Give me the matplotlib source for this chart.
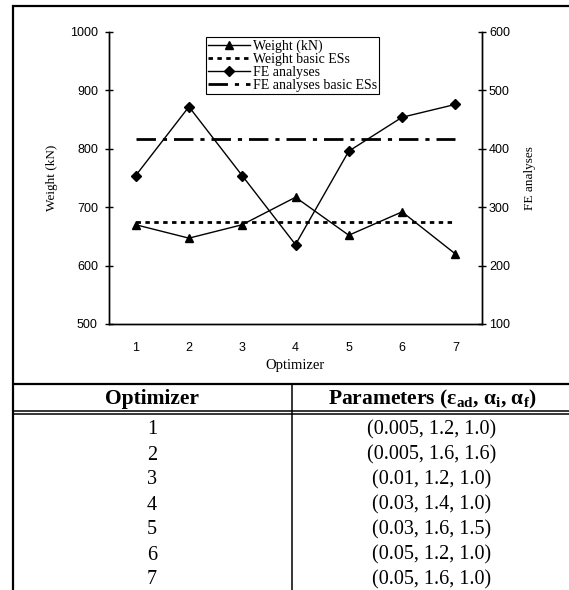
import matplotlib
matplotlib.use("Agg")
import matplotlib.pyplot as plt
from matplotlib.lines import Line2D

plt.rcParams['mathtext.fontset'] = 'custom'
plt.rcParams['mathtext.rm'] = 'Liberation Serif'
plt.rcParams['mathtext.it'] = 'Liberation Serif:italic'
plt.rcParams['mathtext.bf'] = 'Liberation Serif:bold'

# ---- data ----
optimizers = [1, 2, 3, 4, 5, 6, 7]
weight = [670, 647, 670, 717, 652, 692, 620]
weight_basic = 675
fe_analyses = [354, 472, 354, 236, 396, 454, 476]
fe_basic = 416
params = ["(0.005, 1.2, 1.0)", "(0.005, 1.6, 1.6)", "(0.01, 1.2, 1.0)",
          "(0.03, 1.4, 1.0)", "(0.03, 1.6, 1.5)", "(0.05, 1.2, 1.0)",
          "(0.05, 1.6, 1.0)"]
col_headers = ["Optimizer",
               r"Parameters (ε$_{\mathbf{ad}}$, α$_{\mathbf{i}}$, α$_{\mathbf{f}}$)"]

W, H = 569, 590
fig = plt.figure(figsize=(W / 100, H / 100), dpi=100)

def fx(px):
    return px / W

def fy(py):
    return 1 - py / H

serif = 'Liberation Serif'
sans = 'Liberation Sans'

# axes placement (pixel box 109..482 x 32..324)
L, R, T, B = 109, 482, 32, 324
ax = fig.add_axes([fx(L), fy(B), fx(R) - fx(L), fy(T) - fy(B)])
ax2 = ax.twinx()

l1, = ax.plot(optimizers, weight, color='black', lw=1, marker='^', ms=6,
              label='Weight (kN)')
l2, = ax.plot([optimizers[0], optimizers[-1]], [weight_basic, weight_basic],
              color='black', lw=2, linestyle=(0, (1.6, 1.6)),
              label='Weight basic ESs')
l3, = ax2.plot(optimizers, fe_analyses, color='black', lw=1, marker='D', ms=4.8,
               label='FE analyses')
l4, = ax2.plot([optimizers[0], optimizers[-1]], [fe_basic, fe_basic],
               color='black', lw=2, linestyle=(0, (7, 2.5, 1.5, 2.5)),
               label='FE analyses basic ESs')

ax.set_xlim(0.5, 7.5)
ax.set_ylim(500, 1000)
ax2.set_ylim(100, 600)
ax.set_xticks(optimizers)
ax.set_yticks(range(500, 1001, 100))
ax2.set_yticks(range(100, 601, 100))

for a in (ax, ax2):
    a.spines['top'].set_visible(False)
    for s in a.spines.values():
        s.set_linewidth(1)
        s.set_color('black')

ax.tick_params(axis='x', length=0, pad=13, labelsize=9)
ax.tick_params(axis='y', direction='inout', length=6, width=1, pad=5, labelsize=9)
ax2.tick_params(axis='y', direction='inout', length=6, width=1, pad=2, labelsize=9)
for lab in ax.get_xticklabels() + ax.get_yticklabels() + ax2.get_yticklabels():
    lab.set_fontfamily(sans)

ax.set_xlabel('Optimizer', fontfamily=serif, fontsize=10.5)
ax.xaxis.set_label_coords(0.5, (B - 366) / (B - T))
ax.xaxis.label.set_va('center')
ax.set_ylabel('Weight (kN)', fontfamily=serif, fontsize=9.5)
ax.yaxis.set_label_coords((52 - L) / (R - L), 0.5)
ax.yaxis.label.set_va('center')
ax2.set_ylabel('FE analyses', fontfamily=serif, fontsize=9.5)
ax2.yaxis.set_label_coords((530 - L) / (R - L), 0.5)
ax2.yaxis.label.set_va('center')
ax2.yaxis.label.set_rotation(90)

leg = ax2.legend(handles=[l1, l2, l3, l4], loc='upper left',
                 bbox_to_anchor=((206 - L) / (R - L), (B - 37) / (B - T)),
                 prop={'family': serif, 'size': 10}, frameon=True, fancybox=False,
                 edgecolor='black', framealpha=1, borderpad=0.15,
                 labelspacing=0.0, handlelength=3.0, handletextpad=0.2,
                 borderaxespad=0)
leg.get_frame().set_linewidth(0.8)

# ---- frame and table lines ----
def hline(y, x0, x1, lw):
    fig.add_artist(Line2D([fx(x0), fx(x1)], [fy(y), fy(y)], color='black', lw=lw,
                          transform=fig.transFigure, solid_capstyle='butt'))

def vline(x, y0, y1, lw):
    fig.add_artist(Line2D([fx(x), fx(x)], [fy(y0), fy(y1)], color='black', lw=lw,
                          transform=fig.transFigure, solid_capstyle='butt'))

vline(13, 5, 590, 1.6)
hline(6, 12, 569, 1.6)
hline(384, 12, 569, 1.6)
hline(411, 12, 569, 1.1)
hline(414, 12, 569, 1.1)
vline(292, 384, 590, 1.1)

col_x = [152, 432]
fig.text(fx(col_x[0]), fy(399), col_headers[0], ha='center', va='center',
         fontfamily=serif, fontweight='bold', fontsize=15.5)
fig.text(fx(col_x[1]), fy(399), col_headers[1], ha='center', va='center',
         fontfamily=serif, fontweight='bold', fontsize=15.5)
for i, (o, p) in enumerate(zip(optimizers, params)):
    y = 430 + 25 * i
    fig.text(fx(col_x[0]), fy(y), str(o), ha='center', va='center',
             fontfamily=serif, fontsize=14.5)
    fig.text(fx(col_x[1]), fy(y), p, ha='center', va='center',
             fontfamily=serif, fontsize=14.5)

fig.savefig('out.png', dpi=100)
